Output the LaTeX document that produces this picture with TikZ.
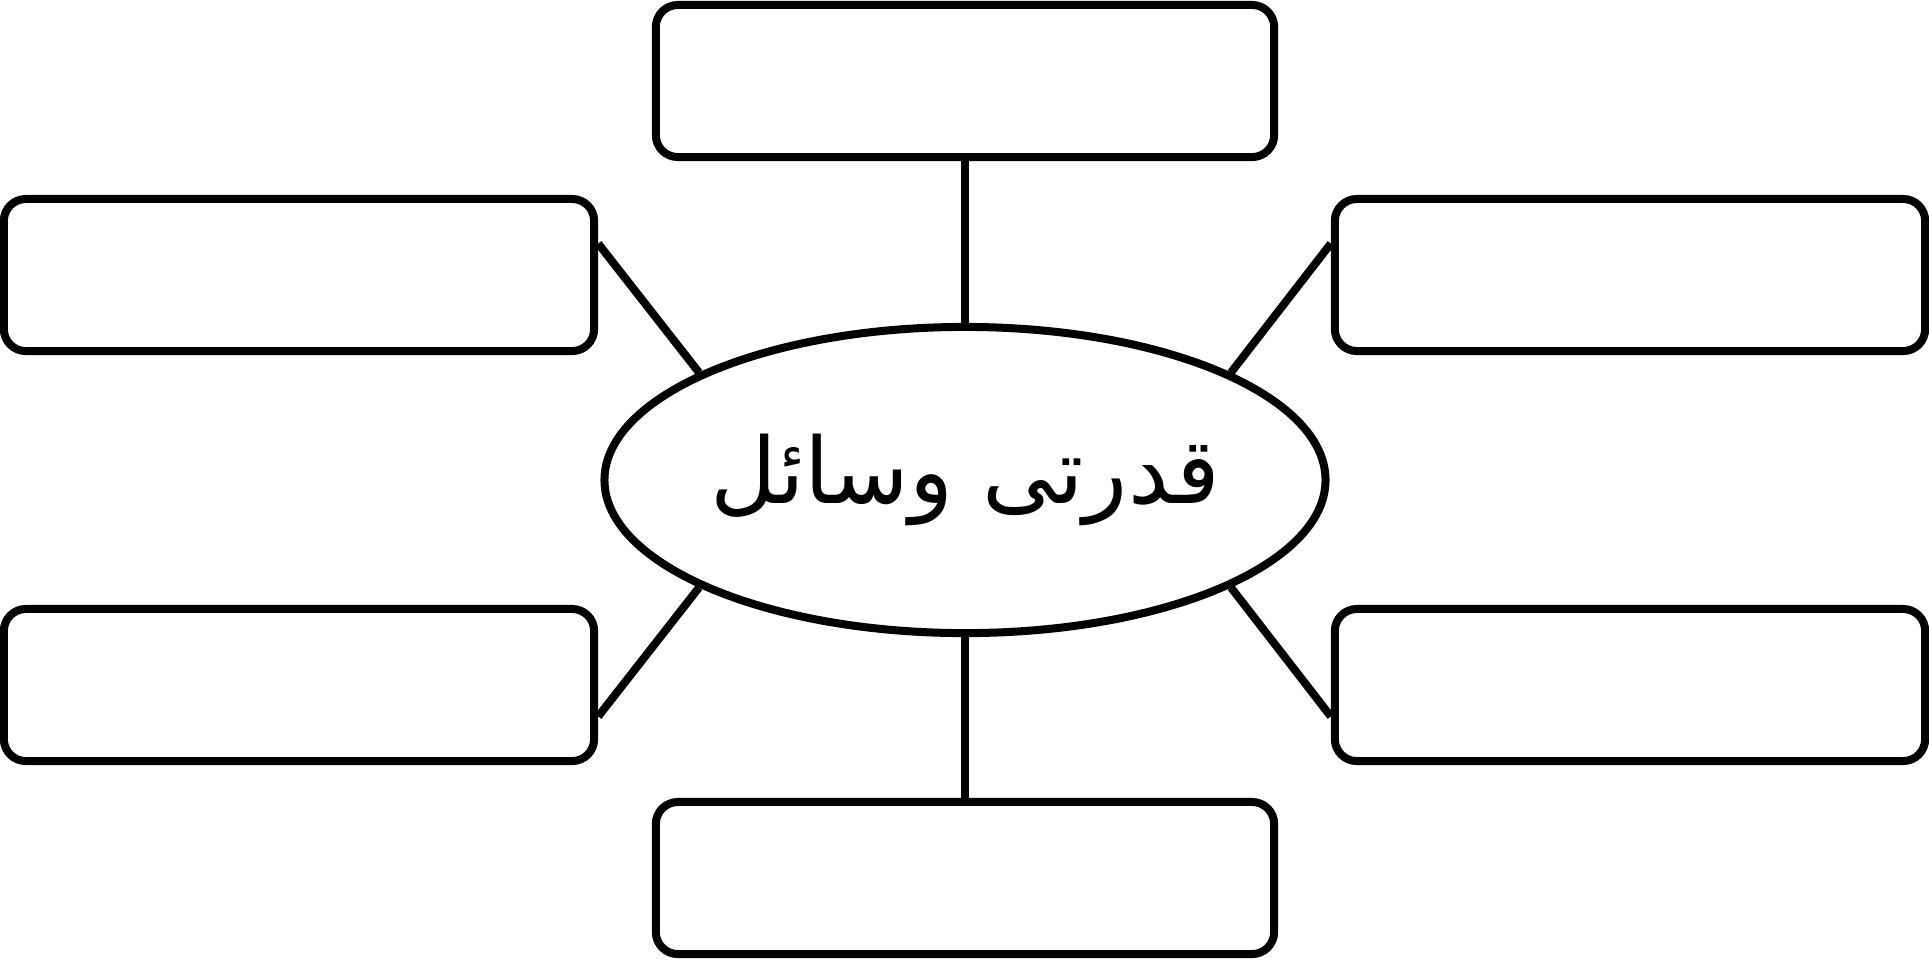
\documentclass[tikz,border=0pt]{standalone}
\usepackage{fontspec}
\usetikzlibrary{shapes.geometric}
\newfontfamily\urdufont[Script=Arabic]{DejaVu Sans}
\TeXXeTstate=1
\tikzset{x=0.01cm, y=-0.01cm,
    topicbox/.style={draw, rounded corners=0.22cm, minimum width=5.9cm, minimum height=1.52cm},
    widebox/.style={topicbox, minimum width=6.18cm},
    hub/.style={draw, ellipse, inner sep=0pt, minimum width=5.36cm, minimum height=3.06cm,
        font=\urdufont\fontsize{26}{30}\selectfont}}

\begin{document}
\begin{tikzpicture}[line width=0.08cm]
    \useasboundingbox (0,0) rectangle (1929,959);
    \node[hub] (res) at (965,480) {\beginR قدرتی وسائل\endR};
    \node[widebox] (top) at (965,81) {};
    \node[widebox] (bottom) at (965,878) {};
    \node[topicbox] (ul) at (299,275) {};
    \node[topicbox] (ur) at (1630,275) {};
    \node[topicbox] (ll) at (299,685) {};
    \node[topicbox] (lr) at (1630,685) {};
    \draw (top) -- (res);
    \draw (bottom) -- (res);
    \draw (ul.6) -- (res.158);
    \draw (ll.-6) -- (res.202);
    \draw (ur.174) -- (res.22);
    \draw (lr.186) -- (res.-22);
\end{tikzpicture}
\end{document}
